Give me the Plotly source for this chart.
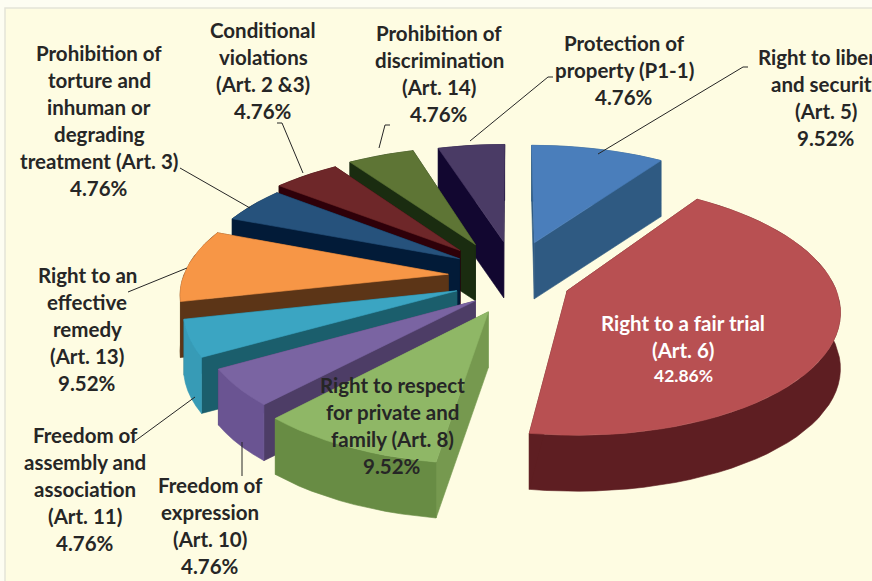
import math
import plotly.graph_objects as go

categories = ["Right to liberty and security (Art. 5)", "Right to a fair trial (Art. 6)",
              "Right to respect for private and family (Art. 8)", "Freedom of expression (Art. 10)",
              "Freedom of assembly and association (Art. 11)", "Right to an effective remedy (Art. 13)",
              "Prohibition of torture and inhuman or degrading treatment (Art. 3)",
              "Conditional violations (Art. 2 &3)", "Prohibition of discrimination (Art. 14)",
              "Protection of property (P1-1)"]
values = [9.52, 42.86, 9.52, 4.76, 4.76, 9.52, 4.76, 4.76, 4.76, 4.76]
explode = [1.35, 1.0, 0.9, 0.78, 1.0, 1.1, 1.06, 1.35, 1.5, 1.0]
top_colors = ["#4A7EBB", "#B85052", "#8FB766", "#7A64A2", "#3BA5C2", "#F79646", "#26527C", "#6E2729", "#5E7535", "#4A3B65"]
wall_colors = ["#2F5A82", "#5E1E22", "#76994F", "#4D3D66", "#1B5E6C", "#5C3517", "#021B38", "#2E0009", "#1A2C10", "#120730"]
arc_colors = ["#2F5A82", "#5E1E22", "#688C44", "#6A5492", "#379BB6", "#5C3517", "#021B38", "#2E0009", "#1A2C10", "#120730"]

labels = [
    (["Right to liberty", "and security", "(Art. 5)", "9.52%"], 826, 57),
    (["Protection of", "property (P1-1)", "4.76%"], 624, 43),
    (["Prohibition of", "discrimination", "(Art. 14)", "4.76%"], 439, 33),
    (["Conditional", "violations", "(Art. 2 &3)", "4.76%"], 263, 30),
    (["Prohibition of", "torture and", "inhuman or", "degrading", "treatment (Art. 3)", "4.76%"], 99, 53),
    (["Right to an", "effective", "remedy", "(Art. 13)", "9.52%"], 87, 275),
    (["Freedom of", "assembly and", "association", "(Art. 11)", "4.76%"], 85, 435),
    (["Freedom of", "expression", "(Art. 10)", "4.76%"], 210, 485),
    (["Right to respect", "for private and", "family (Art. 8)", "9.52%"], 392, 385),
]
leaders = [
    [(470, 141), (548, 77), (553, 77)],
    [(598, 154), (743, 67), (748, 67)],
    [(379, 148), (385, 125), (390, 125)],
    [(277, 123), (282, 123), (303, 173)],
    [(180, 168), (250, 208)],
    [(187, 268), (128, 292)],
    [(195, 397), (135, 441)],
    [(242, 442), (242, 476)],
]

Cx, Cy, Ax, Ay, k, ex, ey, depth = 512, 277, 265, 120, 0.14, 0.22, 0.31, 56


def project(X, Y):
    w = 1 + k * Y
    return Cx + Ax * X / w, Cy - Ay * Y / w


fig = go.Figure()


def poly(pts, color):
    fig.add_trace(go.Scatter(x=[p[0] for p in pts] + [pts[0][0]], y=[p[1] for p in pts] + [pts[0][1]],
                             mode="lines", fill="toself", fillcolor=color,
                             line=dict(color=color, width=0.6), hoverinfo="skip", showlegend=False))


total = sum(values)
wedges = []
a = 0.0
for i, v in enumerate(values):
    b = a + v / total * 2 * math.pi
    wedges.append((i, a, b))
    a = b

order = [9, 8, 7, 6, 5, 4, 3, 2, 0, 1]
for i in order:
    _, a, b = wedges[i]
    m = (a + b) / 2
    ox, oy = ex * explode[i] * math.sin(m), ey * math.cos(m)
    n = max(3, int((b - a) / math.radians(3)))
    thetas = [a + (b - a) * j / n for j in range(n + 1)]
    world = [(ox + math.sin(t), oy + math.cos(t)) for t in thetas]
    apex = project(ox, oy)
    rim = [project(*p) for p in world]
    down = lambda p: (p[0], p[1] + depth)
    walls = [
        ((oy + world[0][1]) / 2, [apex, rim[0], down(rim[0]), down(apex)], wall_colors[i]),
        ((oy + world[-1][1]) / 2, [apex, rim[-1], down(rim[-1]), down(apex)], wall_colors[i]),
        (sum(p[1] for p in world) / len(world), rim + [down(p) for p in reversed(rim)], arc_colors[i]),
    ]
    for _, pts, col in sorted(walls, key=lambda t: -t[0]):
        poly(pts, col)
    poly([apex] + rim, top_colors[i])

shapes = [dict(type="rect", xref="x", yref="y", x0=5, y0=8, x1=900, y1=620, layer="below",
               fillcolor="#FEFCE2", line=dict(color="#E4E4D8", width=1.5))]
for path in leaders:
    for p, q in zip(path, path[1:]):
        shapes.append(dict(type="line", xref="x", yref="y", x0=p[0], y0=p[1], x1=q[0], y1=q[1],
                           line=dict(color="#262626", width=1)))

annotations = []


def text(x, y, s, color="#262626", size=20.5):
    annotations.append(dict(x=x, y=y, xref="x", yref="y", text="<b>%s</b>" % s, showarrow=False,
                            xanchor="center", yanchor="middle",
                            font=dict(family="Lato", size=size, color=color)))


for lines, x, y in labels:
    for j, s in enumerate(lines):
        text(x, y + 27 * j, s)
text(683, 323, "Right to a fair trial", "#FFFFFF")
text(683, 350, "(Art. 6)", "#FFFFFF")
text(683, 375, "42.86%", "#FFFFFF", 17.5)

fig.update_layout(width=872, height=581, margin=dict(l=0, r=0, t=0, b=0), paper_bgcolor="#FDFDF2",
                  plot_bgcolor="rgba(0,0,0,0)", shapes=shapes, annotations=annotations, showlegend=False,
                  xaxis=dict(range=[0, 872], visible=False, fixedrange=True),
                  yaxis=dict(range=[581, 0], visible=False, fixedrange=True))
fig.write_html("out.html", config=dict(displayModeBar=False),
               post_script="document.body.style.margin='0';document.body.style.overflow='hidden';")
